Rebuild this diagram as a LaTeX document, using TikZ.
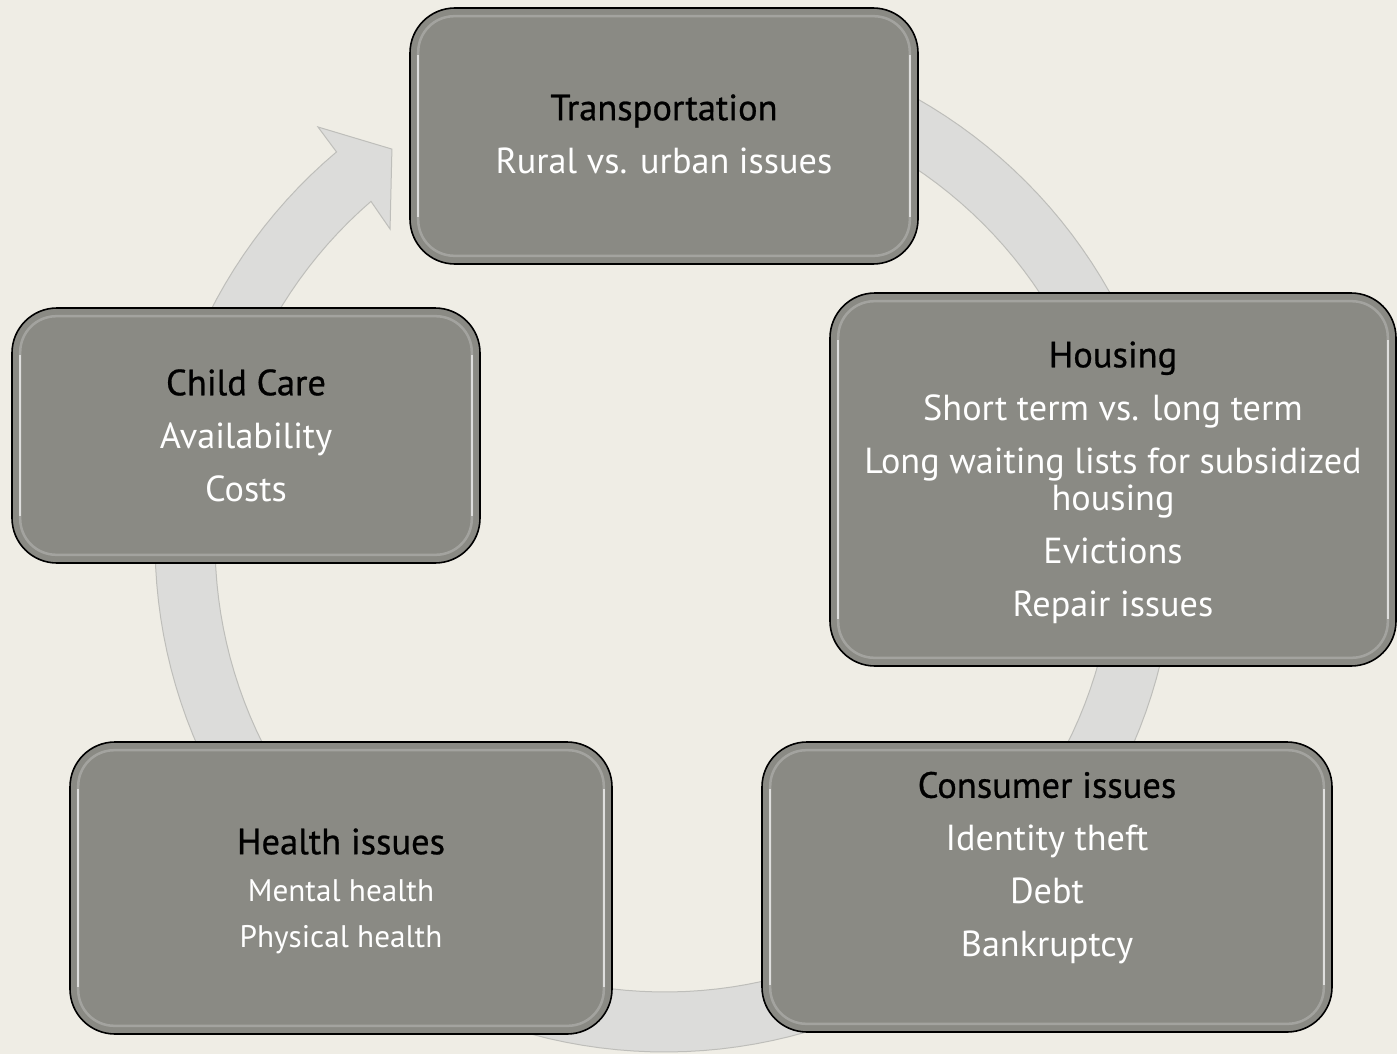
\documentclass[tikz,border=0pt]{standalone}
\usepackage{fontspec}
\setmainfont{PT Sans}
\newfontface\cardtitleface{PT Sans}[FakeBold=0.7]
\usetikzlibrary{calc}
\definecolor{bg}{HTML}{EFEDE5}
\definecolor{boxgray}{HTML}{8A8A84}
\definecolor{ringfill}{HTML}{DCDCDA}
\definecolor{ringedge}{HTML}{BEBEBA}
\tikzset{
  card/.style={draw=black, line width=1.6pt, fill=boxgray, rounded corners=45pt, inner sep=0pt},
  cardtxt/.style={align=center, font=\fontsize{36.2}{37}\selectfont, text=white, inner sep=0pt},
  hlsoft/.style={white, opacity=0.22, line width=2.5pt, rounded corners=36pt},
  hlstrong/.style={white, opacity=0.65, line width=2.5pt},
}
\newcommand{\cardtitle}[1]{{\cardtitleface\fontsize{36.5}{37}\selectfont\textcolor{black}{#1}}}
\newcommand{\cardbevel}[1]{%
  \draw[hlsoft] ($(#1.north west)+(9,9)$) rectangle ($(#1.south east)+(-9,-9)$);
  \draw[hlstrong] ($(#1.north west)+(9,48)$) -- ($(#1.south west)+(9,-48)$);
  \draw[hlstrong] ($(#1.north east)+(-9,48)$) -- ($(#1.south east)+(-9,-48)$);
}
\begin{document}
\begin{tikzpicture}[x=1pt,y=-1pt]
\useasboundingbox (0,0) rectangle (1397,1054);
\fill[bg] (0,0) rectangle (1397,1054);
\coordinate (c) at (665,542);
\begin{scope}[shift={(665,542)}]
\filldraw[fill=ringfill, draw=ringedge, line width=1pt]
  plot[domain=-80:229.9, samples=160] (\x:510)
  -- (230.1:541) -- (235.2:478.5) -- (228.7:416.6) -- (229.2:450)
  -- plot[domain=229.2:-80, samples=160] (\x:450) -- cycle;
\end{scope}

\node[card, minimum width=508pt, minimum height=256pt] (trans) at (664,136) {};
\node[card, minimum width=566pt, minimum height=373pt] (house) at (1113,479.5) {};
\node[card, minimum width=468pt, minimum height=255pt] (child) at (246,435.5) {};
\node[card, minimum width=542pt, minimum height=292pt] (health) at (341,888) {};
\node[card, minimum width=570pt, minimum height=290pt] (cons) at (1047,887) {};

\cardbevel{trans}
\cardbevel{house}
\cardbevel{child}
\cardbevel{health}
\cardbevel{cons}

\node[cardtxt] (ttrans) at ($(trans.center)+(0,-2)$) {\cardtitle{Transportation}\\[16pt]Rural vs. urban issues};
\node[cardtxt] (thouse) at ($(house.center)+(0,3)$) {\cardtitle{Housing}\\[16pt]Short term vs. long term\\[16pt]Long waiting lists for subsidized\\housing\\[16pt]Evictions\\[16pt]Repair issues};
\node[cardtxt] (tchild) at (child.center) {\cardtitle{Child Care}\\[16pt]Availability\\[16pt]Costs};
\node[cardtxt] (thealth) at ($(health.center)+(0,3)$) {\cardtitle{Health issues}\\[10pt]{\fontsize{31.2}{33}\selectfont Mental health}\\[9pt]{\fontsize{31.2}{33}\selectfont Physical health}};
\node[cardtxt] (tcons) at ($(cons.center)+(0,-19)$) {\cardtitle{Consumer issues}\\[16pt]Identity theft\\[16pt]Debt\\[16pt]Bankruptcy};
\end{tikzpicture}
\end{document}
